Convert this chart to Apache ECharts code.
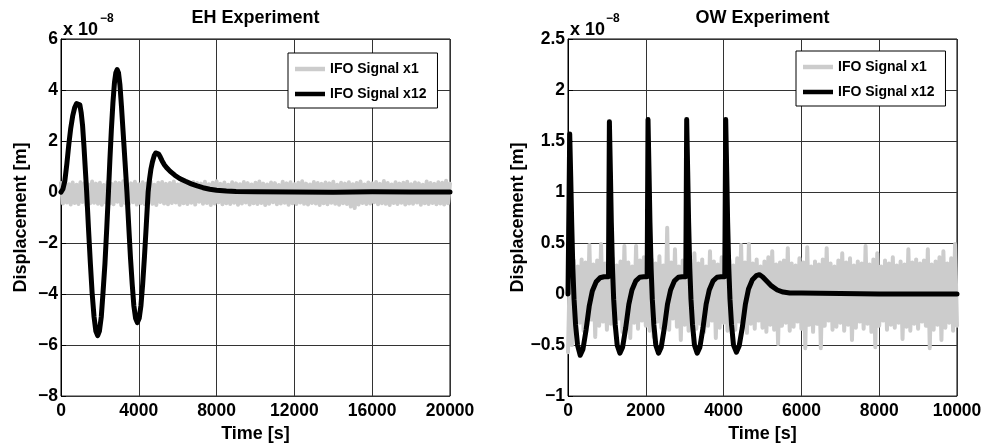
<!DOCTYPE html>
<html>
<head>
<meta charset="utf-8">
<script src="https://cdn.jsdelivr.net/npm/echarts@6/dist/echarts.min.js"></script>
<style>
html,body{margin:0;padding:0;background:#fff;}
#chart{width:985px;height:448px;}
</style>
</head>
<body>
<div id="chart"></div>
<script>
// ---------------- DATA (values in units of 1e-8 m) ----------------
const titles = ['EH Experiment', 'OW Experiment'];
const seriesNames = ['IFO Signal x1', 'IFO Signal x12'];
const xAxisName = 'Time [s]';
const yAxisName = 'Displacement [m]';
const exponentLabel = ['x 10', '\u22128'];

// EH axes
const ehXRange = [0, 20000, 4000];
const ehYRange = [-8, 6, 2];
// OW axes
const owXRange = [0, 10000, 2000];
const owYRange = [-1, 2.5, 0.5];

// EH: IFO Signal x1 (noise), sampled every ehX1Step seconds
const ehX1Step = 100;
const ehX1 = [
0.35,-0.45,0.40,-0.41,0.31,-0.49,0.37,-0.43,0.29,-0.47,0.38,-0.39,0.34,-0.51,0.30,-0.44,0.41,-0.42,0.33,-0.46,
0.36,-0.50,0.28,-0.41,0.39,-0.45,0.32,-0.48,0.37,-0.38,0.35,-0.52,0.42,-0.43,0.30,-0.46,0.34,-0.40,0.40,-0.49,
0.31,-0.44,0.38,-0.47,0.33,-0.42,0.43,-0.46,0.29,-0.51,0.36,-0.39,0.39,-0.45,0.32,-0.48,0.35,-0.43,0.41,-0.41,
0.30,-0.50,0.37,-0.44,0.34,-0.47,0.28,-0.42,0.39,-0.49,0.35,-0.38,0.33,-0.46,0.40,-0.43,0.31,-0.51,0.36,-0.45,
0.42,-0.40,0.32,-0.48,0.37,-0.44,0.29,-0.47,0.38,-0.42,0.34,-0.50,0.31,-0.45,0.39,-0.41,0.35,-0.49,0.30,-0.44,
0.36,-0.47,0.41,-0.43,0.33,-0.51,0.30,-0.46,0.37,-0.40,0.35,-0.48,0.28,-0.45,0.40,-0.42,0.34,-0.50,0.38,-0.44,
0.31,-0.47,0.36,-0.41,0.42,-0.46,0.33,-0.49,0.30,-0.43,0.39,-0.45,0.35,-0.51,0.32,-0.44,0.37,-0.48,0.34,-0.42,
0.40,-0.46,0.29,-0.50,0.36,-0.44,0.33,-0.47,0.38,-0.57,0.31,-0.63,0.35,-0.49,0.41,-0.43,0.30,-0.47,0.37,-0.45,
0.34,-0.40,0.39,-0.48,0.32,-0.44,0.43,-0.46,0.35,-0.51,0.30,-0.43,0.38,-0.47,0.33,-0.42,0.36,-0.49,0.40,-0.45,
0.31,-0.46,0.37,-0.41,0.34,-0.50,0.29,-0.44,0.41,-0.47,0.35,-0.43,0.32,-0.48,0.38,-0.45,0.36,-0.49,0.44,-0.44,0.33
];

// EH: IFO Signal x12 as [time, value]
const ehX12 = [
[0,0],[100,0.12],[200,0.45],[300,1.1],[400,1.85],[500,2.5],[600,2.98],[700,3.3],[800,3.47],[890,3.52],
[970,3.42],[1040,3.1],[1110,2.6],[1180,1.8],[1250,0.9],[1320,0],[1415,-1.45],[1510,-2.8],[1600,-3.95],
[1700,-4.9],[1790,-5.45],[1885,-5.63],[1975,-5.45],[2070,-4.9],[2160,-3.95],[2260,-2.8],[2350,-1.45],
[2440,0],[2510,1.2],[2590,2.45],[2670,3.5],[2750,4.3],[2820,4.68],[2885,4.8],[2955,4.68],[3030,4.2],
[3110,3.35],[3190,2.4],[3290,1.2],[3390,0],[3480,-1.3],[3570,-2.55],[3660,-3.6],[3745,-4.45],[3835,-4.95],
[3925,-5.12],[4020,-4.95],[4110,-4.45],[4200,-3.6],[4290,-2.55],[4385,-1.3],[4480,0],[4550,0.5],[4620,0.88],
[4700,1.18],[4790,1.42],[4870,1.53],[4940,1.55],[5010,1.5],[5100,1.38],[5200,1.22],[5320,1.06],[5460,0.93],
[5600,0.82],[5850,0.66],[6100,0.53],[6400,0.42],[6700,0.32],[7000,0.24],[7300,0.17],[7650,0.11],[8000,0.07],
[8500,0.04],[9000,0.02],[10000,0.01],[12000,0.0],[14000,-0.01],[16000,0.01],[18000,0.0],[20000,0.0]
];

// OW: IFO Signal x1 (noise), sampled every owX1Step seconds
const owX1Step = 50;
const owX1 = [
-0.57,0.30,-0.50,0.33,-0.34,0.27,-0.28,0.34,-0.36,0.31,-0.30,0.48,-0.25,0.29,-0.42,0.33,-0.31,0.49,-0.27,0.30,
-0.35,0.26,-0.29,0.35,-0.33,0.28,-0.24,0.32,-0.37,0.47,-0.30,0.31,-0.43,0.27,-0.28,0.47,-0.34,0.33,-0.26,0.36,
-0.31,0.29,-0.36,0.34,-0.42,0.30,-0.27,0.37,-0.33,0.28,-0.29,0.65,-0.35,0.31,-0.24,0.44,-0.32,0.27,-0.45,0.33,
-0.30,0.35,-0.36,0.29,-0.27,0.40,-0.34,0.30,-0.29,0.34,-0.37,0.27,-0.31,0.42,-0.26,0.32,-0.43,0.29,-0.33,0.36,
-0.28,0.30,-0.36,0.33,-0.30,0.28,-0.35,0.35,-0.27,0.48,-0.32,0.31,-0.38,0.49,-0.29,0.30,-0.34,0.34,-0.26,0.27,
-0.33,0.32,-0.37,0.36,-0.30,0.42,-0.35,0.29,-0.49,0.31,-0.31,0.33,-0.28,0.45,-0.36,0.30,-0.32,0.28,-0.27,0.35,
-0.34,0.31,-0.53,0.46,-0.30,0.27,-0.37,0.32,-0.29,0.29,-0.53,0.34,-0.31,0.45,-0.26,0.30,-0.35,0.27,-0.32,0.33,
-0.28,0.40,-0.36,0.31,-0.30,0.35,-0.45,0.28,-0.33,0.32,-0.27,0.30,-0.34,0.47,-0.29,0.29,-0.37,0.34,-0.52,0.40,
-0.31,0.27,-0.26,0.33,-0.35,0.30,-0.30,0.36,-0.33,0.28,-0.28,0.32,-0.44,0.29,-0.32,0.44,-0.36,0.31,-0.29,0.34,
-0.34,0.30,-0.27,0.33,-0.31,0.44,-0.53,0.29,-0.35,0.32,-0.30,0.36,-0.45,0.42,-0.33,0.30,-0.28,0.35,-0.36,0.49,-0.31
];

// OW: IFO Signal x12 as [time, value]
const owX12 = [
[0,0],[44,1.57],[70,1.15],[95,0.7],[125,0.25],[155,-0.05],[195,-0.3],[245,-0.5],[314,-0.6],[385,-0.54],
[465,-0.35],[545,-0.12],[625,0.03],[725,0.12],[825,0.16],[925,0.17],[1040,0.17],
[1064,1.69],[1090,1.2],[1114,0.7],[1144,0.25],[1174,-0.05],[1214,-0.3],[1264,-0.5],[1334,-0.58],[1404,-0.52],
[1484,-0.33],[1564,-0.1],[1644,0.04],[1744,0.13],[1844,0.165],[1944,0.17],[2035,0.17],
[2057,1.71],[2083,1.2],[2107,0.7],[2137,0.25],[2167,-0.05],[2207,-0.3],[2257,-0.5],[2327,-0.58],[2397,-0.52],
[2477,-0.33],[2557,-0.1],[2637,0.04],[2737,0.13],[2837,0.165],[2937,0.17],[3028,0.17],
[3051,1.71],[3077,1.2],[3101,0.7],[3131,0.25],[3161,-0.05],[3201,-0.3],[3251,-0.5],[3321,-0.58],[3391,-0.52],
[3471,-0.33],[3551,-0.1],[3631,0.04],[3731,0.13],[3831,0.165],[3931,0.17],[4030,0.17],
[4054,1.71],[4080,1.2],[4104,0.7],[4134,0.25],[4164,-0.05],[4204,-0.3],[4254,-0.5],[4330,-0.57],[4400,-0.51],
[4480,-0.33],[4560,-0.1],[4640,0.05],[4740,0.14],[4840,0.18],[4920,0.19],[5000,0.17],[5100,0.13],[5230,0.08],
[5380,0.04],[5530,0.02],[5700,0.01],[6000,0.01],[7000,0.005],[8000,0],[9000,0],[10000,0]
];

// ---------------- STYLE ----------------
const FONT = '"Liberation Sans", Arial, Helvetica, sans-serif';
const GRAY = '#cccccc';
const BLACK = '#000000';
const GRID_COLOR = '#333333';
const fmt = v => String(v).replace('-', '\u2212');

function makeAxes(idx, xr, yr, yNameGap) {
  const common = {
    gridIndex: idx,
    type: 'value',
    axisLine: { show: true, lineStyle: { color: '#000', width: 1 } },
    axisTick: { show: true, inside: true, length: 5, lineStyle: { color: '#000' } },
    splitLine: { show: true, lineStyle: { color: GRID_COLOR, width: 1 } },
    nameTextStyle: { fontFamily: FONT, fontWeight: 'bold', fontSize: 18, color: '#000' },
  };
  const x = Object.assign({}, common, {
    min: xr[0], max: xr[1], interval: xr[2],
    name: xAxisName, nameLocation: 'middle', nameGap: 21,
    axisLabel: { margin: 6, fontFamily: FONT, fontWeight: 'bold', fontSize: 17.5, color: '#000', formatter: fmt, showMinLabel: true, showMaxLabel: true }
  });
  const y = Object.assign({}, common, {
    min: yr[0], max: yr[1], interval: yr[2],
    name: yAxisName, nameLocation: 'middle', nameGap: yNameGap, nameRotate: 90,
    axisLabel: { margin: 3, fontFamily: FONT, fontWeight: 'bold', fontSize: 17.5, color: '#000', formatter: fmt, showMinLabel: true, showMaxLabel: true }
  });
  return [x, y];
}

const [ehXAxis, ehYAxis] = makeAxes(0, ehXRange, ehYRange, 31);
const [owXAxis, owYAxis] = makeAxes(1, owXRange, owYRange, 35);

function noiseSeries(idx, values, step) {
  return {
    type: 'line', name: seriesNames[0], xAxisIndex: idx, yAxisIndex: idx,
    data: values.map((v, i) => [i * step, v]),
    showSymbol: false, symbol: 'none', sampling: 'none',
    color: GRAY,
    itemStyle: { color: GRAY },
    lineStyle: { color: GRAY, width: 4, join: 'round', cap: 'round' },
    z: 2, silent: true, animation: false
  };
}
function signalSeries(idx, data) {
  return {
    type: 'line', name: seriesNames[1], xAxisIndex: idx, yAxisIndex: idx,
    data: data,
    showSymbol: false, symbol: 'none', smooth: false,
    color: BLACK,
    itemStyle: { color: BLACK },
    lineStyle: { color: BLACK, width: 5, join: 'round', cap: 'round' },
    z: 3, silent: true, animation: false
  };
}

function legendAt(left, top) {
  return {
    left: left, top: top, orient: 'vertical',
    backgroundColor: '#fff', borderColor: '#000', borderWidth: 1,
    padding: [9, 11, 7, 7], itemGap: 11,
    itemWidth: 30, itemHeight: 4.5, icon: 'rect',
    itemStyle: { borderWidth: 0 },
    selectedMode: false,
    textStyle: { fontFamily: FONT, fontWeight: 'bold', fontSize: 14, color: '#000' },
    data: seriesNames.slice()
  };
}

const chart = echarts.init(document.getElementById('chart'), null, { renderer: 'canvas' });
chart.setOption({
  animation: false,
  backgroundColor: '#fff',
  title: [
    { text: titles[0], left: 255.5, top: 9, textAlign: 'center', padding: 0,
      textStyle: { fontFamily: FONT, fontWeight: 'bold', fontSize: 18, color: '#000' } },
    { text: titles[1], left: 762.5, top: 9, textAlign: 'center', padding: 0,
      textStyle: { fontFamily: FONT, fontWeight: 'bold', fontSize: 18, color: '#000' } }
  ],
  grid: [
    { left: 61, top: 39, width: 389, height: 363, show: true, borderColor: '#000', borderWidth: 1, backgroundColor: '#fff' },
    { left: 568, top: 39, width: 389, height: 363, show: true, borderColor: '#000', borderWidth: 1, backgroundColor: '#fff' }
  ],
  xAxis: [ehXAxis, owXAxis],
  yAxis: [ehYAxis, owYAxis],
  legend: [legendAt(288, 53), legendAt(796, 51)],
  graphic: [
    { type: 'text', left: 63, top: 21, style: { text: exponentLabel[0], font: 'bold 18px ' + FONT, fill: '#000' } },
    { type: 'text', left: 100, top: 13, style: { text: exponentLabel[1], font: 'bold 12px ' + FONT, fill: '#000' } },
    { type: 'text', left: 570, top: 21, style: { text: exponentLabel[0], font: 'bold 18px ' + FONT, fill: '#000' } },
    { type: 'text', left: 606, top: 13, style: { text: exponentLabel[1], font: 'bold 12px ' + FONT, fill: '#000' } }
  ],
  series: [
    noiseSeries(0, ehX1, ehX1Step),
    signalSeries(0, ehX12),
    noiseSeries(1, owX1, owX1Step),
    signalSeries(1, owX12)
  ]
});
</script>
</body>
</html>
